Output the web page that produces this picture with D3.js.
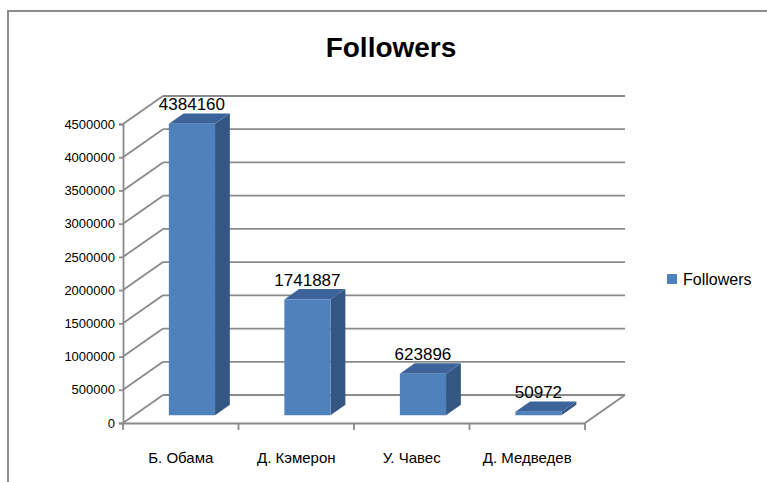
<!DOCTYPE html>
<html>
<head>
<meta charset="utf-8">
<script src="https://cdn.jsdelivr.net/npm/d3@7"></script>
<style>
  html, body { margin: 0; padding: 0; background: #fff; }
  svg { display: block; font-family: "Liberation Sans", Arial, sans-serif; }
</style>
</head>
<body>
<svg width="767" height="482"></svg>
<script>
const categories = ["Б. Обама", "Д. Кэмерон", "У. Чавес", "Д. Медведев"];
const followers = [4384160, 1741887, 623896, 50972];
const yTickValues = [0, 500000, 1000000, 1500000, 2000000, 2500000, 3000000, 3500000, 4000000, 4500000];
const seriesName = "Followers";

const depth = { dx: 40, dy: -28 };
const barDepth = { front: 0.28, back: 0.65 };
const gridColor = "#8a8a8a";
const gridWidth = 1.8;

const svg = d3.select("svg");

// outer frame (only top and left edges are visible in the picture)
svg.append("path")
	.attr("d", "M8,482 V11 H767")
	.attr("fill", "none")
	.attr("stroke", "#8c8c8c")
	.attr("stroke-width", 2);

svg.append("text")
	.attr("x", 391)
	.attr("y", 57)
	.attr("text-anchor", "middle")
	.attr("font-size", 28)
	.attr("font-weight", "bold")
	.attr("fill", "#000")
	.text(seriesName);

const scaleX = d3.scaleBand().domain(categories).range([123, 585]);
const scaleY = d3.scaleLinear().domain([0, 4500000]).range([423, 124]);

const shift = (p, t) => [p[0] + depth.dx * t, p[1] + depth.dy * t];

const x0 = scaleX.range()[0], x1 = scaleX.range()[1];
const chartG = svg.append("g");

// back wall gridlines and left wall diagonals
yTickValues.forEach((v) => {
	const front = [x0, scaleY(v)];
	const back = shift(front, 1);
	chartG.append("line")
		.attr("x1", front[0]).attr("y1", front[1])
		.attr("x2", back[0]).attr("y2", back[1])
		.attr("stroke", gridColor).attr("stroke-width", gridWidth);
	chartG.append("line")
		.attr("x1", back[0]).attr("y1", back[1])
		.attr("x2", x1 + depth.dx).attr("y2", back[1])
		.attr("stroke", gridColor).attr("stroke-width", gridWidth);
});

// floor right edge
const fr = [x1, scaleY(0)];
const br = shift(fr, 1);
chartG.append("line")
	.attr("x1", fr[0]).attr("y1", fr[1])
	.attr("x2", br[0]).attr("y2", br[1])
	.attr("stroke", gridColor).attr("stroke-width", gridWidth);

// y axis
const axisY = d3.axisLeft(scaleY)
	.tickValues(yTickValues)
	.tickSize(4)
	.tickPadding(4)
	.tickFormat(d3.format("d"));
const axisYG = chartG.append("g")
	.attr("transform", `translate(${x0}, 0)`)
	.call(axisY);
axisYG.select(".domain").attr("stroke", gridColor).attr("stroke-width", gridWidth);
axisYG.selectAll(".tick line").attr("stroke", gridColor).attr("stroke-width", gridWidth);
axisYG.selectAll(".tick text")
	.attr("font-size", 13)
	.attr("font-family", "Liberation Sans, Arial, sans-serif")
	.attr("fill", "#000");

// x axis: labels at band centres, ticks at band edges
const axisX = d3.axisBottom(scaleX).tickSize(0).tickPadding(29);
const axisXG = chartG.append("g")
	.attr("transform", `translate(0, ${scaleY(0)})`)
	.call(axisX);
axisXG.select(".domain").attr("stroke", gridColor).attr("stroke-width", gridWidth);
axisXG.selectAll(".tick text")
	.attr("font-size", 15)
	.attr("font-family", "Liberation Sans, Arial, sans-serif")
	.attr("fill", "#000");

const edges = categories.map((c) => scaleX(c)).concat([x1]);
chartG.selectAll(".xedge")
	.data(edges)
	.join("line")
	.attr("class", "xedge")
	.attr("x1", (d) => d).attr("x2", (d) => d)
	.attr("y1", scaleY(0)).attr("y2", scaleY(0) + 7)
	.attr("stroke", gridColor).attr("stroke-width", gridWidth);

// 3D bars
const barW = scaleX.bandwidth() * 0.4;
const barsG = svg.append("g");
categories.forEach((c, i) => {
	const v = followers[i];
	const cx = scaleX(c) + scaleX.bandwidth() / 2;
	const l = cx - barW / 2, r = cx + barW / 2;
	const fBL = shift([l, scaleY(0)], barDepth.front);
	const fBR = shift([r, scaleY(0)], barDepth.front);
	const fTL = shift([l, scaleY(v)], barDepth.front);
	const fTR = shift([r, scaleY(v)], barDepth.front);
	const bTL = shift([l, scaleY(v)], barDepth.back);
	const bTR = shift([r, scaleY(v)], barDepth.back);
	const bBR = shift([r, scaleY(0)], barDepth.back);
	const poly = (pts) => "M" + pts.map((p) => p.join(",")).join("L") + "Z";

	barsG.append("path").attr("d", poly([fTR, bTR, bBR, fBR])).attr("fill", "#335782");
	barsG.append("path").attr("d", poly([fTL, bTL, bTR, fTR])).attr("fill", "#3c639a");
	barsG.append("path").attr("d", poly([fTL, fTR, fBR, fBL])).attr("fill", "#4f81bd");

	barsG.append("text")
		.attr("x", (fTL[0] + fTR[0]) / 2)
		.attr("y", bTL[1] - 3)
		.attr("text-anchor", "middle")
		.attr("font-size", 17)
		.attr("fill", "#000")
		.text(v);
});

// legend
const legendG = svg.append("g").attr("transform", "translate(667, 274)");
legendG.append("rect").attr("width", 10).attr("height", 10).attr("fill", "#4f81bd");
legendG.append("text")
	.attr("x", 16)
	.attr("y", 11)
	.attr("font-size", 16)
	.attr("fill", "#000")
	.text(seriesName);
</script>
</body>
</html>
